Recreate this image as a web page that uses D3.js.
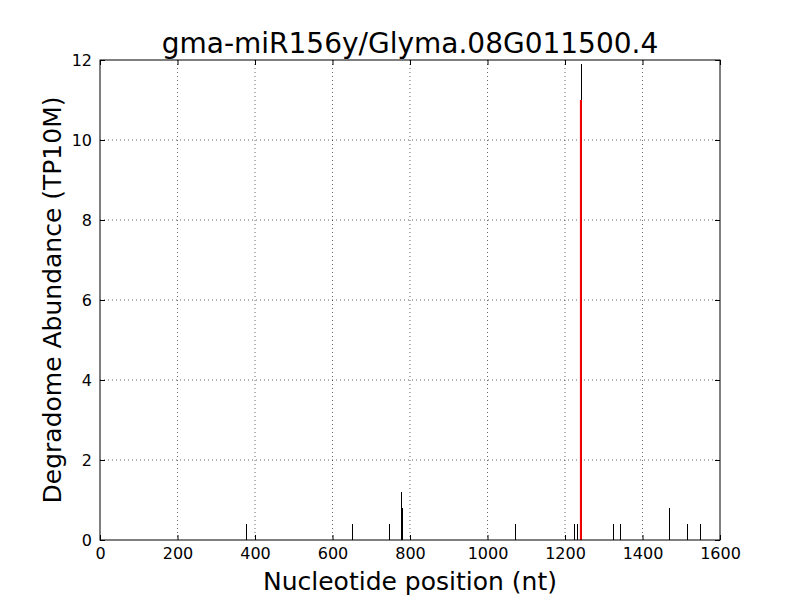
<!DOCTYPE html>
<html>
<head>
<meta charset="utf-8">
<script src="https://cdn.jsdelivr.net/npm/d3@7"></script>
<style>
  body { margin: 0; background: #fff; }
  svg { font-family: "DejaVu Sans", sans-serif; }
</style>
</head>
<body>
<div id="chart"></div>
<script>
const positions = [377, 650, 746, 777, 780, 1070, 1222, 1232, 1241, 1325, 1342, 1469, 1516, 1548]
const abundances = [0.4, 0.4, 0.4, 1.2, 0.8, 0.4, 0.4, 0.4, 11.9, 0.4, 0.4, 0.8, 0.4, 0.4]
const sitePosition = 1241
const siteAbundance = 11.0
const xTicks = [0, 200, 400, 600, 800, 1000, 1200, 1400, 1600]
const yTicks = [0, 2, 4, 6, 8, 10, 12]

const MARGIN = { TOP: 60, BOTTOM: 60, LEFT: 100, RIGHT: 80 }
const WIDTH = 800 - MARGIN.LEFT - MARGIN.RIGHT
const HEIGHT = 600 - MARGIN.TOP - MARGIN.BOTTOM

const svg = d3.select("#chart").append("svg")
    .attr("width", 800)
    .attr("height", 600)

const g = svg.append("g")
    .attr("transform", `translate(${MARGIN.LEFT}, ${MARGIN.TOP})`)

const x = d3.scaleLinear().domain([0, 1600]).range([0, WIDTH])
const y = d3.scaleLinear().domain([0, 12]).range([HEIGHT, 0])

// grid
g.selectAll(".vgrid").data(xTicks.slice(1, -1)).enter().append("line")
    .attr("x1", d => x(d)).attr("x2", d => x(d))
    .attr("y1", 0).attr("y2", HEIGHT)
    .attr("stroke", "#000").attr("stroke-width", 0.6)
    .attr("stroke-dasharray", "1,3")
g.selectAll(".hgrid").data(yTicks.slice(1, -1)).enter().append("line")
    .attr("x1", 0).attr("x2", WIDTH)
    .attr("y1", d => y(d)).attr("y2", d => y(d))
    .attr("stroke", "#000").attr("stroke-width", 0.6)
    .attr("stroke-dasharray", "1,3")

// bars
g.selectAll(".bar").data(positions).enter().append("line")
    .attr("x1", d => Math.round(x(d)) + 0.5).attr("x2", d => Math.round(x(d)) + 0.5)
    .attr("y1", HEIGHT)
    .attr("y2", (d, i) => y(abundances[i]))
    .attr("stroke", "#000").attr("stroke-width", 1)

// cleavage site
g.append("line")
    .attr("x1", x(sitePosition)).attr("x2", x(sitePosition))
    .attr("y1", HEIGHT).attr("y2", y(siteAbundance))
    .attr("stroke", "red").attr("stroke-width", 2)

// axes, ticks inward on all sides
const fmt = d3.format("d")
const xAxisCall = d3.axisBottom(x).tickValues(xTicks).tickFormat(fmt).tickSizeInner(-5).tickSizeOuter(0).tickPadding(8)
const yAxisCall = d3.axisLeft(y).tickValues(yTicks).tickFormat(fmt).tickSizeInner(-5).tickSizeOuter(0).tickPadding(8)

const xAxisGroup = g.append("g").attr("transform", `translate(0, ${HEIGHT})`).call(xAxisCall)
const yAxisGroup = g.append("g").call(yAxisCall)
const xTop = g.append("g").call(d3.axisTop(x).tickValues(xTicks).tickSizeInner(-5).tickSizeOuter(0).tickFormat(""))
const yRight = g.append("g").attr("transform", `translate(${WIDTH}, 0)`)
    .call(d3.axisRight(y).tickValues(yTicks).tickSizeInner(-5).tickSizeOuter(0).tickFormat(""))

;[xAxisGroup, yAxisGroup, xTop, yRight].forEach(a => {
    a.select(".domain").remove()
    a.selectAll("line").attr("stroke", "#000")
    a.selectAll("text").attr("font-size", 16).attr("fill", "#000")
        .attr("font-family", "DejaVu Sans")
})

g.append("rect")
    .attr("width", WIDTH).attr("height", HEIGHT)
    .attr("fill", "none").attr("stroke", "#000").attr("stroke-width", 1)

// labels
svg.append("text")
    .attr("x", MARGIN.LEFT + WIDTH / 2).attr("y", 53)
    .attr("text-anchor", "middle").attr("font-size", 28)
    .text("gma-miR156y/Glyma.08G011500.4")

svg.append("text")
    .attr("x", MARGIN.LEFT + WIDTH / 2).attr("y", 590)
    .attr("text-anchor", "middle").attr("font-size", 25)
    .text("Nucleotide position (nt)")

svg.append("text")
    .attr("transform", `translate(61, ${MARGIN.TOP + HEIGHT / 2}) rotate(-90)`)
    .attr("text-anchor", "middle").attr("font-size", 25)
    .text("Degradome Abundance (TP10M)")
</script>
</body>
</html>
